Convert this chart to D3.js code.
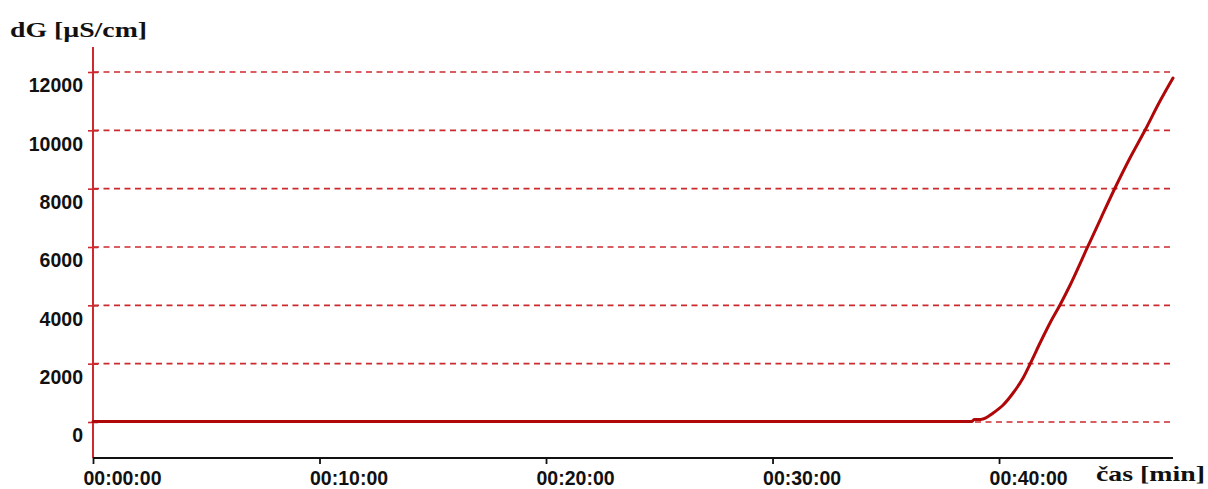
<!DOCTYPE html>
<html>
<head>
<meta charset="utf-8">
<script src="https://cdn.jsdelivr.net/npm/d3@7"></script>
<style>
  html, body { margin: 0; padding: 0; background: #fff; }
  svg { display: block; }
</style>
</head>
<body>
<svg id="chart" width="1208" height="489"></svg>
<script>
// Conductivity change over time (minutes since start)
const timeMin = [0, 38.81, 38.90, 39.20, 39.29, 39.74, 40.18, 40.62, 41.06, 41.37, 41.81,
                 42.25, 42.69, 43.13, 43.89, 44.50, 45.12, 45.78, 46.45, 47.06, 47.68];
const dG      = [20, 20, 90, 90, 100, 309, 583, 994, 1509, 1989, 2709,
                 3394, 4011, 4680, 5966, 6994, 8023, 9051, 10011, 10937, 11794];
const yTicks  = [0, 2000, 4000, 6000, 8000, 10000, 12000];
const xTicks  = [0, 10, 20, 30, 40];
const yTitle  = "dG [µS/cm]";
const xTitle  = "čas [min]";

const svg = d3.select("#chart");
const plotLeft = 93, plotRight = 1173, plotTop = 47, plotBottom = 458;

const x = d3.scaleLinear().domain([0, 47.68]).range([plotLeft, plotRight]);
const y = d3.scaleLinear().domain([-1234, 12857]).range([plotBottom, plotTop]);

const fmtTime = m => {
  const totalSec = Math.round(m * 60);
  const h = Math.floor(totalSec / 3600);
  const mm = Math.floor((totalSec % 3600) / 60);
  const s = totalSec % 60;
  return [h, mm, s].map(v => String(v).padStart(2, "0")).join(":");
};

const gridColor = "#cc2a2f";
const lineColor = "#b00808";
const sansFont = "Arial, 'Liberation Sans', Helvetica, sans-serif";
const serifFont = "'Times New Roman', 'Liberation Serif', serif";

// dashed horizontal grid
svg.append("g")
  .selectAll("line")
  .data(yTicks)
  .join("line")
  .attr("x1", plotLeft).attr("x2", plotRight)
  .attr("y1", d => y(d)).attr("y2", d => y(d))
  .attr("stroke", gridColor)
  .attr("stroke-width", 1.6)
  .attr("stroke-dasharray", "6,4.5");

// y axis (red)
const yAxis = svg.append("g")
  .attr("transform", `translate(${plotLeft},0)`)
  .call(d3.axisLeft(y).tickValues(yTicks).tickSize(0).tickFormat(""));
yAxis.select(".domain").remove();
yAxis.append("line")
  .attr("x1", 0).attr("x2", 0).attr("y1", plotTop).attr("y2", plotBottom)
  .attr("stroke", gridColor).attr("stroke-width", 2);
yAxis.selectAll(".tick").append("line")
  .attr("x1", -5).attr("x2", 5)
  .attr("stroke", gridColor).attr("stroke-width", 1.6);
yAxis.selectAll(".tick").append("text")
  .attr("x", -10).attr("y", 13)
  .attr("dy", "0.35em")
  .attr("text-anchor", "end")
  .attr("fill", "#111")
  .style("font-family", sansFont)
  .style("font-weight", "bold")
  .style("font-size", "19.5px")
  .text(d => d);

// x axis (black); labels start just left of each tick
const xAxis = svg.append("g")
  .attr("transform", `translate(0,${plotBottom})`)
  .call(d3.axisBottom(x).tickValues(xTicks).tickSize(6).tickFormat(fmtTime));
xAxis.select(".domain")
  .attr("d", `M${plotLeft},0H${plotRight}`)
  .attr("stroke", "#111").attr("stroke-width", 1.8);
xAxis.selectAll(".tick line").attr("stroke", "#111").attr("stroke-width", 1.8);
xAxis.selectAll(".tick text")
  .attr("x", -10)
  .attr("y", 13)
  .attr("text-anchor", "start")
  .attr("fill", "#111")
  .style("font-family", sansFont)
  .style("font-weight", "bold")
  .style("font-size", "19.5px");

// data line
const pts = timeMin.map((t, i) => [t, dG[i]]);
svg.append("path")
  .datum(pts)
  .attr("fill", "none")
  .attr("stroke", lineColor)
  .attr("stroke-width", 3)
  .attr("stroke-linejoin", "round")
  .attr("stroke-linecap", "round")
  .attr("d", d3.line().x(d => x(d[0])).y(d => y(d[1])).curve(d3.curveMonotoneX));

// axis titles
svg.append("text")
  .attr("x", 10).attr("y", 37)
  .attr("textLength", 137).attr("lengthAdjust", "spacingAndGlyphs")
  .attr("fill", "#111")
  .style("font-family", serifFont)
  .style("font-weight", "bold")
  .style("font-size", "22px")
  .text(yTitle);

svg.append("text")
  .attr("x", 1096).attr("y", 481)
  .attr("textLength", 109).attr("lengthAdjust", "spacingAndGlyphs")
  .attr("fill", "#111")
  .style("font-family", serifFont)
  .style("font-weight", "bold")
  .style("font-size", "22px")
  .text(xTitle);
</script>
</body>
</html>
